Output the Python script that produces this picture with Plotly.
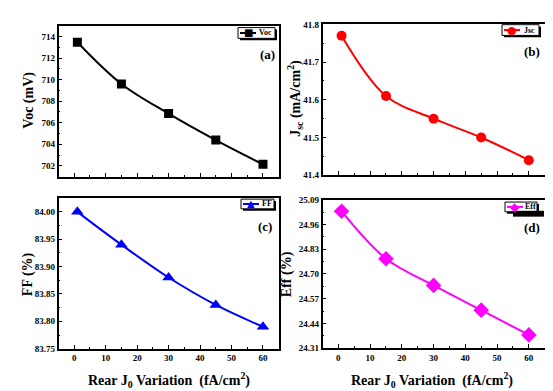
import plotly.graph_objects as go

x_vals = [1, 15, 30, 45, 60]
voc = [713.46, 709.6, 706.85, 704.4, 702.15]
jsc = [41.77, 41.61, 41.55, 41.50, 41.44]
ff = [84.00, 83.94, 83.88, 83.83, 83.79]
eff = [25.03, 24.78, 24.64, 24.51, 24.38]

x_ticks = [0, 10, 20, 30, 40, 50, 60]
voc_ticks = [702, 704, 706, 708, 710, 712, 714]
jsc_ticks = [41.4, 41.5, 41.6, 41.7, 41.8]
ff_ticks = [83.75, 83.80, 83.85, 83.90, 83.95, 84.00]
eff_ticks = [24.31, 24.44, 24.57, 24.70, 24.83, 24.96, 25.09]

W, H = 553, 391
FONT = "Liberation Serif"

def px(x):
    return x / W

def py(y):
    return 1 - y / H

fig = go.Figure()

series = [
    ("Voc", voc, "black", "square", 9, "x", "y"),
    ("Jsc", jsc, "#FF0000", "circle", 10, "x2", "y2"),
    ("FF", ff, "#0000FF", "triangle-up", 11, "x3", "y3"),
    ("Eff", eff, "#FF00FF", "diamond", 12, "x4", "y4"),
]
for name, vals, col, sym, sz, xa, ya in series:
    fig.add_trace(go.Scatter(
        x=x_vals, y=vals, name=name, mode="lines+markers",
        line=dict(color=col, width=2, shape="spline", smoothing=1.0),
        marker=dict(color=col, symbol=sym, size=sz),
        xaxis=xa, yaxis=ya, showlegend=False,
    ))

tickfont = dict(family=FONT, size=9, color="black", weight="bold")

def xaxis(domain, anchor, labels):
    return dict(
        domain=domain, anchor=anchor, range=[-5, 65],
        tickvals=x_ticks, showticklabels=labels, ticks="inside", ticklen=4,
        tickwidth=1, tickcolor="black",
        minor=dict(dtick=5, tick0=0, ticks="inside", ticklen=2, tickcolor="black"),
        showline=True, linecolor="black", linewidth=1.6, mirror=True,
        showgrid=False, zeroline=False, tickfont=tickfont,
    )

def yaxis(domain, anchor, rng, tv, fmt):
    return dict(
        domain=domain, anchor=anchor, range=rng,
        tickvals=tv, ticktext=[fmt.format(v) for v in tv],
        ticks="inside", ticklen=4, tickwidth=1, tickcolor="black",
        minor=dict(tickvals=[(tv[i] + tv[i + 1]) / 2 for i in range(len(tv) - 1)],
                   ticks="inside", ticklen=2, tickcolor="black"),
        showline=True, linecolor="black", linewidth=1.6, mirror=True,
        showgrid=False, zeroline=False, tickfont=tickfont,
    )

xl = [px(50.5), px(270.7)]
xr = [px(314.5), px(536.7)]

fig.update_layout(
    width=W, height=H,
    margin=dict(l=0, r=0, t=0, b=0),
    paper_bgcolor="white", plot_bgcolor="white",
    font=dict(family=FONT, color="black"),
    showlegend=False,
    xaxis=xaxis(xl, "y", False),
    yaxis=yaxis([py(168), py(13)], "x", [701, 715], voc_ticks, "{:.0f}"),
    xaxis2=xaxis(xr, "y2", False),
    yaxis2=yaxis([py(166.5), py(11.7)], "x2", [41.4, 41.8], jsc_ticks, "{:.1f}"),
    xaxis3=xaxis(xl, "y3", True),
    yaxis3=yaxis([py(344.5), py(190)], "x3", [83.75, 84.025], ff_ticks, "{:.2f}"),
    xaxis4=xaxis(xr, "y4", True),
    yaxis4=yaxis([py(344), py(191.7)], "x4", [24.31, 25.09], eff_ticks, "{:.2f}"),
)

shapes = []
ann = []

def rect(x0, y0, x1, y1, fill, line_col=None, lw=0):
    shapes.append(dict(type="rect", xref="paper", yref="paper",
                       x0=px(x0), x1=px(x1), y0=py(y1), y1=py(y0),
                       fillcolor=fill,
                       line=dict(color=line_col or fill, width=lw)))

def add_text(text, x, y, size, angle=0, color="black", family=FONT, bold=True):
    f = dict(family=family, size=size, color=color)
    if bold:
        f["weight"] = "bold"
    ann.append(dict(text=text, x=px(x), y=py(y), xref="paper", yref="paper",
                    showarrow=False, textangle=angle, font=f,
                    xanchor="center", yanchor="middle"))

# manual legend boxes (Origin style with shadow)
legends = [
    ("Voc", "black", "\u25A0", 230, 15, 267, 26, 10),
    ("Jsc", "#FF0000", "\u25CF", 494, 12, 531, 23, 11),
    ("FF", "#0000FF", "\u25B2", 233, 191, 266, 201, 10),
    ("Eff", "#FF00FF", "\u25C6", 497, 194, 529, 204, 12),
]
for name, col, glyph, x0, y0, x1, y1, gs in legends:
    rect(x0 + 2, y0 + 2, x1 + 2, y1 + 2, "black")
    rect(x0, y0, x1, y1, "white", "black", 1)
    ym = (y0 + y1) / 2
    lx0, lx1 = x0 + 2, x0 + 18
    shapes.append(dict(type="line", xref="paper", yref="paper",
                       x0=px(lx0), x1=px(lx1), y0=py(ym), y1=py(ym),
                       line=dict(color=col, width=2)))
    add_text(glyph, (lx0 + lx1) / 2, ym, gs, color=col, family="DejaVu Sans", bold=False)
    add_text(name, (lx1 + x1) / 2, ym, 8)

# extra black shadow block seen under the Eff legend
rect(505, 203, 536, 209, "black")

add_text("Voc (mV)", 21, 90, 14, -90)
add_text("J<sub>sc</sub> (mA/cm<sup>2</sup>)", 287, 88, 14, -90)
add_text("FF (%)", 20, 268, 14, -90)
add_text("Eff (%)", 279, 268, 14, -90)
add_text("Rear J<sub>0</sub> Variation  (fA/cm<sup>2</sup>)", 161, 377, 14)
add_text("Rear J<sub>0</sub> Variation  (fA/cm<sup>2</sup>)", 424, 377, 14)
add_text("(a)", 259, 43, 13)
add_text("(b)", 524, 40, 13)
add_text("(c)", 257, 219, 13)
add_text("(d)", 524, 220, 13)

fig.update_layout(annotations=ann, shapes=shapes)

fig.write_html("out.html")
